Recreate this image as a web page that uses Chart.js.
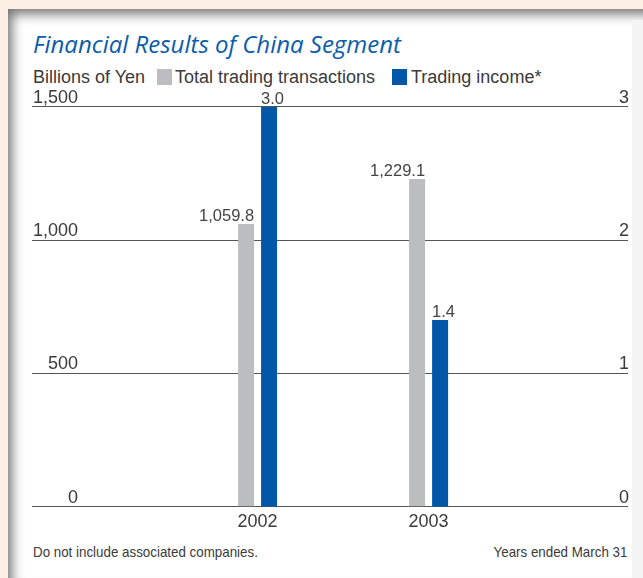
<!DOCTYPE html>
<html><head><meta charset="utf-8">
<script src="https://cdn.jsdelivr.net/npm/chart.js@4.4.0/dist/chart.umd.min.js"></script>
<style>
html,body{margin:0;padding:0;width:643px;height:578px;overflow:hidden;background:#fdefe3;}
#panel{position:absolute;left:8px;top:9px;width:635px;height:569px;background:#ffffff;box-shadow:inset 7px 8px 12px -3px rgba(0,0,0,0.55);}
#strip{position:absolute;left:632px;top:20px;width:11px;height:558px;background:#f4f4f4;}
.t{position:absolute;white-space:nowrap;font-family:"Liberation Sans",Arial,sans-serif;color:#3a3a3a;}
#title{left:33px;top:30px;font-family:"Open Sans","Noto Sans",sans-serif;font-style:italic;font-size:24px;line-height:28px;color:#0b5cab;}
.lg{top:67px;font-size:18px;line-height:20px;}
.sq{position:absolute;top:69px;width:15px;height:16px;}
.ft{top:543px;font-size:15px;}
canvas{position:absolute;left:0;top:0;}
</style></head>
<body>
<div id="panel"></div>
<div id="strip"></div>
<div class="t" id="title">Financial Results of China Segment</div>
<div class="t lg" style="left:33px">Billions of Yen</div>
<div class="sq" style="left:157px;background:#bcbdc0"></div>
<div class="t lg" style="left:175px">Total trading transactions</div>
<div class="sq" style="left:392px;background:#0057a8"></div>
<div class="t lg" style="left:411px">Trading income*</div>
<div class="t ft" style="left:33px;transform:scaleX(0.89);transform-origin:left center">Do not include associated companies.</div>
<div class="t ft" style="right:16px;transform:scaleX(0.89);transform-origin:right center">Years ended March 31</div>
<canvas id="c" width="643" height="578"></canvas>
<script>
const categories = [2002, 2003];
const tradingTransactions = [1059.8, 1229.1];
const tradingIncome = [3.0, 1.4];
const leftTicks = [0, 500, 1000, 1500];
const rightTicks = [0, 1, 2, 3];

const FONT = '"Liberation Sans", Arial, sans-serif';
const fmt = v => v.toLocaleString('en-US', {minimumFractionDigits: 1, maximumFractionDigits: 1});

const valueLabels = {
  id: 'valueLabels',
  afterDatasetsDraw(chart) {
    const ctx = chart.ctx;
    ctx.save();
    ctx.font = '16.5px ' + FONT;
    ctx.fillStyle = '#444';
    ctx.textBaseline = 'alphabetic';
    chart.data.datasets.forEach((ds, di) => {
      const meta = chart.getDatasetMeta(di);
      const vals = di === 0 ? tradingTransactions : tradingIncome;
      meta.data.forEach((bar, i) => {
        const txt = fmt(vals[i]);
        if (di === 0) { ctx.textAlign = 'right'; ctx.fillText(txt, bar.x + bar.width / 2, bar.y - 3); }
        else { ctx.textAlign = 'left'; ctx.fillText(txt, bar.x - bar.width / 2, bar.y - 3); }
      });
    });
    ctx.restore();
  }
};

new Chart(document.getElementById('c'), {
  type: 'bar',
  data: {
    datasets: [
      { label: 'Total trading transactions', data: categories.map((c, i) => ({x: c, y: tradingTransactions[i]})),
        backgroundColor: '#bcbdc0', yAxisID: 'y', categoryPercentage: 0.269, barPercentage: 0.696 },
      { label: 'Trading income*', data: categories.map((c, i) => ({x: c, y: tradingIncome[i]})),
        backgroundColor: '#0057a8', yAxisID: 'y1', categoryPercentage: 0.269, barPercentage: 0.696 }
    ]
  },
  options: {
    responsive: false, animation: false, devicePixelRatio: 1,
    layout: { padding: { left: 30, right: 13, top: 106.7, bottom: 39.7 } },
    plugins: { legend: { display: false }, tooltip: { enabled: false }, title: { display: false } },
    scales: {
      x: {
        type: 'linear', min: 2000.681, max: 2004.166, offset: false,
        grid: { display: false, drawTicks: false }, border: { display: false },
        afterBuildTicks: s => { s.ticks = categories.map(v => ({value: v})); },
        ticks: { callback: v => String(v), font: { family: FONT, size: 18 }, color: '#3a3a3a', padding: 5, autoSkip: false, maxRotation: 0 }
      },
      y: {
        position: 'left', min: 0, max: 1500,
        afterBuildTicks: s => { s.ticks = leftTicks.map(v => ({value: v})); },
        ticks: { mirror: true, crossAlign: 'far', padding: 1, labelOffset: -9, callback: v => v.toLocaleString('en-US'), font: { family: FONT, size: 18 }, color: '#3a3a3a' },
        grid: { color: '#555', lineWidth: 1, drawTicks: false }, border: { display: false }
      },
      y1: {
        position: 'right', min: 0, max: 3,
        afterBuildTicks: s => { s.ticks = rightTicks.map(v => ({value: v})); },
        ticks: { mirror: true, padding: 1, labelOffset: -9, callback: v => String(v), font: { family: FONT, size: 18 }, color: '#3a3a3a' },
        grid: { display: false, drawTicks: false }, border: { display: false }
      }
    }
  },
  plugins: [valueLabels]
});
</script>
</body></html>
